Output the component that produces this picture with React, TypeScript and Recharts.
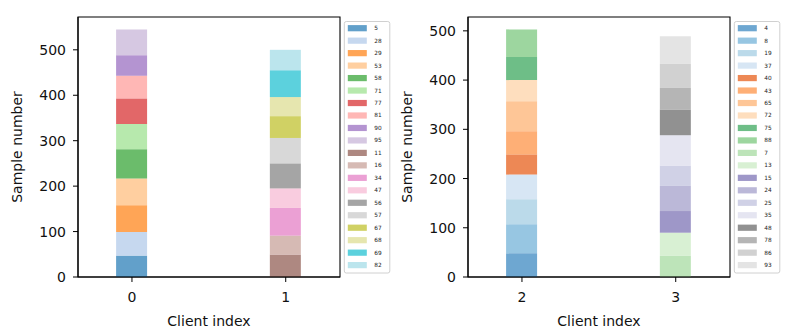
import React from "react";
import { BarChart, Bar, XAxis, YAxis, ReferenceArea } from "recharts";

// ---- data ----
const clientsLeft = [0, 1];
const clientsRight = [2, 3];

const labelsClient0 = ["5", "28", "29", "53", "58", "71", "77", "81", "90", "95"];
const valuesClient0 = [47, 52, 59, 59, 64, 56, 56, 50, 45, 57];
const labelsClient1 = ["11", "16", "34", "47", "56", "57", "67", "68", "69", "82"];
const valuesClient1 = [49, 42, 61, 43, 55, 56, 48, 42, 59, 45];
const labelsClient2 = ["4", "8", "19", "37", "40", "43", "65", "72", "75", "88"];
const valuesClient2 = [48, 59, 51, 50, 41, 47, 61, 43, 47, 56];
const labelsClient3 = ["7", "13", "15", "24", "25", "35", "48", "78", "86", "93"];
const valuesClient3 = [43, 47, 44, 51, 41, 62, 52, 44, 49, 56];

const yTicksLeft = [0, 100, 200, 300, 400, 500];
const yTicksRight = [0, 100, 200, 300, 400, 500];

const tab20 = [
  "#1f77b4", "#aec7e8", "#ff7f0e", "#ffbb78", "#2ca02c", "#98df8a", "#d62728", "#ff9896",
  "#9467bd", "#c5b0d5", "#8c564b", "#c49c94", "#e377c2", "#f7b6d2", "#7f7f7f", "#c7c7c7",
  "#bcbd22", "#dbdb8d", "#17becf", "#9edae5",
];
const tab20c = [
  "#3182bd", "#6baed6", "#9ecae1", "#c6dbef", "#e6550d", "#fd8d3c", "#fdae6b", "#fdd0a2",
  "#31a354", "#74c476", "#a1d99b", "#c7e9c0", "#756bb1", "#9e9ac8", "#bcbddc", "#dadaeb",
  "#636363", "#969696", "#bdbdbd", "#d9d9d9",
];

const FONT = "'DejaVu Sans', sans-serif";
const ALPHA = 0.7;

function buildRows(clients: number[], labels: string[][], values: number[][]) {
  return clients.map((c, i) => {
    const row: Record<string, number> = { client: c };
    labels[i].forEach((l, j) => {
      row["s" + l] = values[i][j];
    });
    return row;
  });
}

const leftLabels = [labelsClient0, labelsClient1];
const rightLabels = [labelsClient2, labelsClient3];
const leftRows = buildRows(clientsLeft, leftLabels, [valuesClient0, valuesClient1]);
const rightRows = buildRows(clientsRight, rightLabels, [valuesClient2, valuesClient3]);

const totals = (vals: number[][]) => Math.max(...vals.map((v) => v.reduce((a, b) => a + b, 0)));
const yMaxLeft = totals([valuesClient0, valuesClient1]) * 1.05;
const yMaxRight = totals([valuesClient2, valuesClient3]) * 1.05;

type PanelProps = {
  rows: Record<string, number>[];
  labels: string[][];
  colors: string[];
  clients: number[];
  yMax: number;
  yTicks: number[];
};

function Panel({ rows, labels, colors, clients, yMax, yTicks }: PanelProps) {
  const all = labels.flat();
  const xDomain = [clients[0] - 0.351, clients[1] + 0.353];
  const tickStyle = { fontSize: 14, fill: "#111", fontFamily: FONT };
  return (
    <BarChart
      width={400}
      height={335}
      data={rows}
      margin={{ top: 17, right: 60, bottom: 0, left: 0 }}
      barGap={0}
    >
      <XAxis
        dataKey="client"
        type="number"
        domain={xDomain}
        allowDataOverflow
        ticks={clients}
        tickSize={5}
        tickMargin={10}
        height={58}
        stroke="#000"
        tick={tickStyle}
        tickLine={{ stroke: "#000" }}
        axisLine={{ stroke: "#000", strokeWidth: 1.1 }}
        label={{
          content: (p: any) => {
            const vb = p.viewBox || {};
            return (
              <text
                x={vb.x + vb.width / 2}
                y={326}
                textAnchor="middle"
                fontSize={14}
                fontFamily={FONT}
                fill="#111"
              >
                Client index
              </text>
            );
          },
        }}
      />
      <YAxis
        type="number"
        domain={[0, yMax]}
        allowDataOverflow
        ticks={yTicks}
        width={78}
        tickSize={5}
        tickMargin={7}
        stroke="#000"
        tick={tickStyle}
        tickLine={{ stroke: "#000" }}
        axisLine={{ stroke: "#000", strokeWidth: 1.1 }}
        label={{
          content: (p: any) => {
            const vb = p.viewBox || {};
            const cx = 17;
            const cy = vb.y + vb.height / 2;
            return (
              <text
                x={cx}
                y={cy}
                transform={`rotate(-90, ${cx}, ${cy})`}
                textAnchor="middle"
                dominantBaseline="central"
                fontSize={14}
                fontFamily={FONT}
                fill="#111"
              >
                Sample number
              </text>
            );
          },
        }}
      />
      {all.map((l, k) => (
        <Bar
          key={l}
          dataKey={"s" + l}
          stackId="a"
          fill={colors[k]}
          fillOpacity={ALPHA}
          barSize={31}
          isAnimationActive={false}
        />
      ))}
      <ReferenceArea
        x1={xDomain[0]}
        x2={xDomain[1]}
        y1={0}
        y2={yMax}
        fill="none"
        stroke="#000"
        strokeWidth={1.1}
        ifOverflow="visible"
      />
    </BarChart>
  );
}

function LegendBox({ x, labels, colors }: { x: number; labels: string[]; colors: string[] }) {
  const top = 21.5;
  const first = 28.2;
  const step = 12.47;
  return (
    <g>
      <rect
        x={x}
        y={top}
        width={45.5}
        height={251.5}
        rx={2}
        fill="#fff"
        fillOpacity={0.8}
        stroke="#d0d0d0"
        strokeWidth={1}
      />
      {labels.map((l, i) => {
        const cy = first + i * step;
        return (
          <g key={l}>
            <rect x={x + 3.5} y={cy - 3.1} width={19} height={6.2} fill={colors[i]} fillOpacity={ALPHA} />
            <text x={x + 30} y={cy} dominantBaseline="central" fontSize={5.8} fontFamily={FONT} fill="#222">
              {l}
            </text>
          </g>
        );
      })}
    </g>
  );
}

export default function App() {
  return (
    <div style={{ position: "absolute", left: 0, top: 0, width: 793, height: 335, background: "#fff" }}>
      <div style={{ position: "absolute", left: 0, top: 0 }}>
        <Panel rows={leftRows} labels={leftLabels} colors={tab20} clients={clientsLeft} yMax={yMaxLeft} yTicks={yTicksLeft} />
      </div>
      <div style={{ position: "absolute", left: 390, top: 0 }}>
        <Panel rows={rightRows} labels={rightLabels} colors={tab20c} clients={clientsRight} yMax={yMaxRight} yTicks={yTicksRight} />
      </div>
      <svg
        width={793}
        height={335}
        style={{ position: "absolute", left: 0, top: 0, pointerEvents: "none" }}
      >
        <LegendBox x={344.3} labels={leftLabels.flat()} colors={tab20} />
        <LegendBox x={734.3} labels={rightLabels.flat()} colors={tab20c} />
      </svg>
    </div>
  );
}
